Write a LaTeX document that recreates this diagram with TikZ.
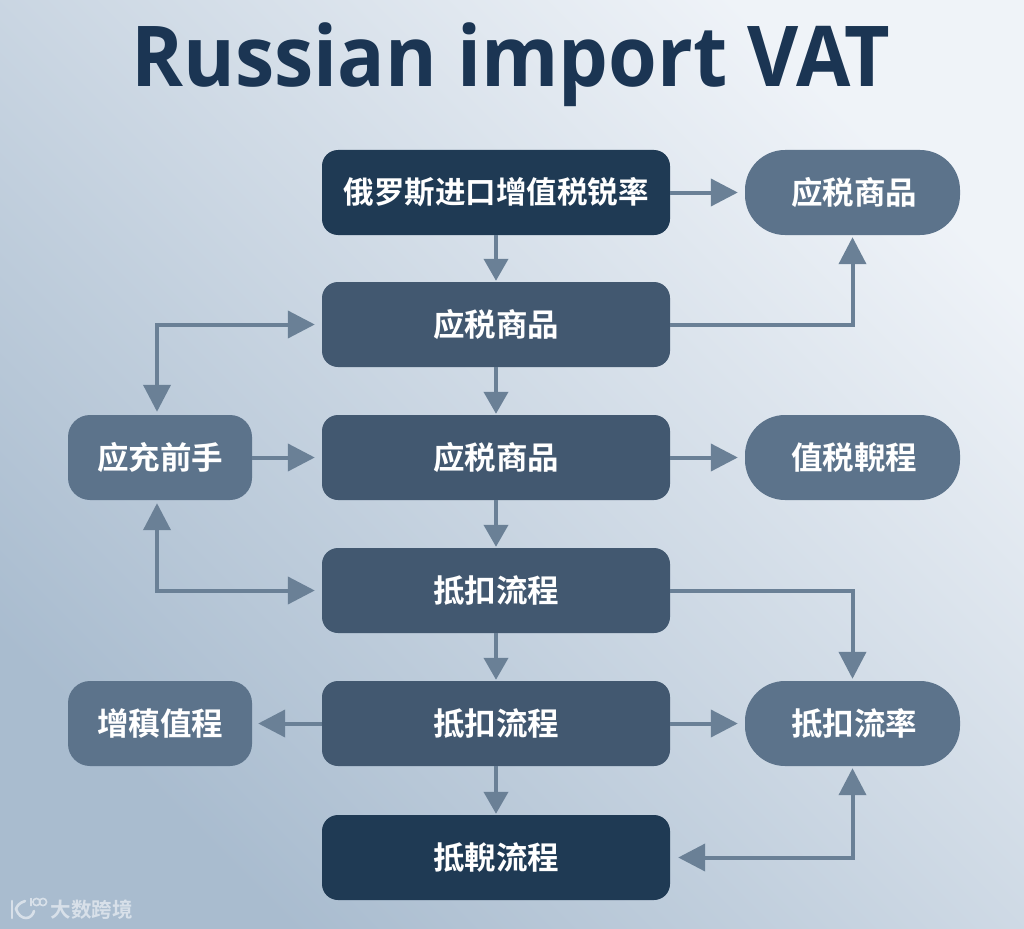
\documentclass[tikz,border=0pt]{standalone}
\usepackage{fontspec}
\usetikzlibrary{arrows.meta,calc}
\newfontfamily\cjkbold{Noto Sans CJK SC Bold}
\newfontfamily\cjkreg{Noto Sans CJK SC}
\setmainfont{Open Sans}
\definecolor{dark}{HTML}{1F3A54}
\definecolor{mid}{HTML}{425870}
\definecolor{soft}{HTML}{5C738B}
\definecolor{edgecol}{HTML}{6A8096}
\definecolor{titlecol}{HTML}{1B3553}
\definecolor{bgA}{HTML}{A9BCCF}
\definecolor{bgB}{HTML}{C6D4E0}
\definecolor{bgC}{HTML}{EFF3F8}
\tikzset{
  x=1pt,y=-1pt,
  box/.style={rounded corners=16pt,minimum width=348pt,minimum height=85pt,inner sep=0pt,text=white,font=\cjkbold\fontsize{31.5}{34}\selectfont,anchor=center},
  darkbox/.style={box,fill=dark},
  midbox/.style={box,fill=mid},
  leftbox/.style={box,fill=soft,rounded corners=22pt,minimum width=184pt},
  rightbox/.style={box,fill=soft,rounded corners=40pt,minimum width=215pt},
  conn/.style={draw=edgecol,line width=4pt,-{Triangle[length=27pt,width=27pt,fill=edgecol]}},
  connshort/.style={draw=edgecol,line width=4pt,-{Triangle[length=22pt,width=24pt,fill=edgecol]}},
  conn2/.style={draw=edgecol,line width=4pt,{Triangle[length=27pt,width=27pt,fill=edgecol]}-{Triangle[length=27pt,width=27pt,fill=edgecol]}},
}
\begin{document}
\begin{tikzpicture}
\useasboundingbox (0,0) rectangle (1024,928);
\path[left color=bgA,middle color=bgB,right color=bgC,shading angle=135] (0,0) rectangle (1024,928);
\node[text=titlecol,font=\bfseries\fontsize{84}{100}\selectfont,inner sep=0pt] (title) at (511,65) {\scalebox{.938}[1]{Russian import VAT}};
\node[darkbox,font=\cjkbold\fontsize{30.5}{34}\selectfont] (n1) at (496,192.5) {俄罗斯进口增值税锐率};
\node[midbox] (n2) at (496,324.5) {应税商品};
\node[midbox] (n3) at (496,457.5) {应税商品};
\node[midbox] (n4) at (496,590.5) {抵扣流程};
\node[midbox] (n5) at (496,723.5) {抵扣流程};
\node[darkbox] (n6) at (496,857.5) {抵輗流程};
\node[leftbox] (l1) at (160,457.5) {应充前手};
\node[leftbox] (l2) at (160,723.5) {增稹值程};
\node[rightbox] (r1) at (852.5,192.5) {\hspace{3pt}应税商品};
\node[rightbox] (r2) at (852.5,457.5) {\hspace{3pt}值税輗程};
\node[rightbox] (r3) at (852.5,723.5) {\hspace{3pt}抵扣流率};
\draw[connshort,shorten >=1pt] (n1) -- (n2);
\draw[connshort,shorten >=1pt] (n2) -- (n3);
\draw[connshort,shorten >=1pt] (n3) -- (n4);
\draw[connshort,shorten >=1pt] (n4) -- (n5);
\draw[connshort,shorten >=1pt] (n5) -- (n6);
\draw[conn,shorten >=7pt] (n1) -- (r1);
\draw[conn,shorten >=7pt] (n3) -- (r2);
\draw[conn,shorten >=7pt] (n5) -- (r3);
\draw[conn,shorten >=7pt] (l1) -- (n3);
\draw[conn,shorten >=6pt] (n5) -- (l2);
\draw[conn,shorten >=2pt] (n2.east) -| (r1.south);
\draw[conn,shorten >=2pt] (n4.east) -| (r3.north);
\draw[conn2,shorten <=3pt,shorten >=7pt] ([xshift=-3pt]l1.north) |- (n2.west);
\draw[conn2,shorten <=3pt,shorten >=7pt] ([xshift=-3pt]l1.south) |- (n4.west);
\draw[conn2,shorten <=2pt,shorten >=8pt] (r3.south) |- (n6.east);
% watermark
\begin{scope}[draw=white,draw opacity=.55,line width=2.6pt,line cap=round]
\draw (12,901) -- (12,918);
\draw (25,901) .. controls (19,903) and (17,906) .. (16,909) .. controls (18,915) and (22,918) .. (26,918) .. controls (30,918) and (33,915) .. (34,911);
\end{scope}
\begin{scope}[draw=white,draw opacity=.55,line width=1.6pt]
\draw (31,898) -- (31,906) (36.5,902) circle[radius=3.6pt] (43,902) circle[radius=3.6pt];
\end{scope}
\node[text=white,text opacity=.55,font=\cjkbold\fontsize{20.5}{24}\selectfont,inner sep=0pt] (wm) at (91.5,910) {大数跨境};
\end{tikzpicture}
\end{document}
